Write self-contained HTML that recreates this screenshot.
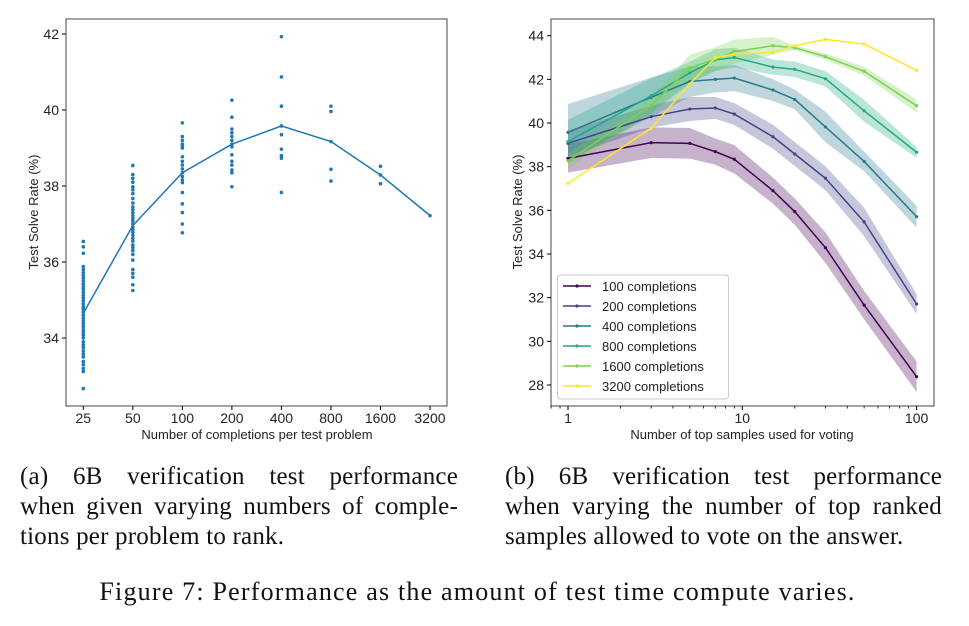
<!DOCTYPE html>
<html><head><meta charset="utf-8"><style>
body{margin:0;background:#fff;width:969px;height:626px;overflow:hidden;position:relative;font-family:"Liberation Sans",sans-serif}
svg{position:absolute;left:0;top:0}
.cap{position:absolute;font-family:"Liberation Serif",serif;font-size:25px;line-height:30px;color:#111;letter-spacing:0.2px}
.cap div{text-align:justify;text-align-last:justify;white-space:nowrap}
.cap div.last{text-align-last:left}
</style></head><body>
<svg id="chart" width="969" height="460" viewBox="0 0 969 460"></svg>
<div class="cap" style="left:20px;top:462px;width:438px"><div>(a) 6B verification test performance</div><div>when given varying numbers of comple-</div><div class="last">tions per problem to rank.</div></div>
<div class="cap" style="left:505px;top:462px;width:437px"><div>(b) 6B verification test performance</div><div>when varying the number of top ranked</div><div class="last">samples allowed to vote on the answer.</div></div>
<div class="cap" style="left:0;width:955px;top:577px;text-align:center;font-size:26px;letter-spacing:1.2px">Figure 7: Performance as the amount of test time compute varies.</div>
<script>
// Left chart data
const leftCats=[25,50,100,200,400,800,1600,3200];
const leftMean=[34.65,36.96,38.35,39.1,39.58,39.17,38.29,37.22];
const leftPts25=[32.67,33.12,33.2,33.3,33.38,33.5,33.58,33.66,33.75,33.82,33.9,34.0,34.08,34.15,34.22,34.3,34.38,34.45,34.52,34.6,34.68,34.75,34.82,34.9,34.98,35.05,35.12,35.2,35.28,35.35,35.42,35.5,35.58,35.65,35.72,35.8,35.88,36.23,36.4,36.54];
const leftPts50=[35.25,35.4,35.6,35.7,35.8,36.05,36.2,36.3,36.38,36.45,36.55,36.62,36.7,36.78,36.85,36.92,37.0,37.08,37.15,37.22,37.3,37.38,37.45,37.55,37.67,37.8,37.9,37.98,38.1,38.2,38.3,38.54];
const leftPts100=[36.77,37.0,37.3,37.53,37.83,38.09,38.16,38.25,38.35,38.45,38.55,38.65,38.77,39.0,39.03,39.1,39.2,39.3,39.66];
const leftPts200=[37.98,38.35,38.42,38.55,38.65,38.82,39.03,39.1,39.2,39.3,39.4,39.5,39.81,40.26];
const leftPts400=[37.83,38.73,38.8,38.97,39.35,39.58,40.1,40.87,41.93];
const leftPts800=[38.13,38.44,39.17,39.96,40.1];
const leftPts1600=[38.06,38.29,38.52];
const leftPts3200=[37.22];
const leftYTicks=[34,36,38,40,42];
// Right chart data
const rightX=[1,3,5,7,9,15,20,30,50,100];
const seriesLabels=["100 completions","200 completions","400 completions","800 completions","1600 completions","3200 completions"];
const s100=[38.38,39.1,39.07,38.69,38.34,36.9,35.94,34.29,31.66,28.38];
const s200=[39.07,40.29,40.64,40.69,40.41,39.37,38.58,37.47,35.47,31.71];
const s400=[39.57,41.18,41.9,42.0,42.06,41.51,41.08,39.82,38.24,35.71];
const s800=[39.15,41.25,42.3,42.89,43.0,42.56,42.46,42.03,40.56,38.66];
const s1600=[38.27,40.81,42.53,42.92,43.27,43.54,43.45,43.04,42.37,40.79];
const s3200=[37.24,39.76,41.79,42.99,43.16,43.24,43.54,43.83,43.62,42.41];
const e100=[0.65,0.7,0.7,0.6,0.65,0.6,0.6,0.7,0.65,0.7];
const e200=[0.6,0.5,0.55,0.5,0.5,0.55,0.55,0.55,0.65,0.45];
const e400=[1.3,0.9,0.7,0.6,0.6,0.5,0.45,0.7,0.45,0.5];
const e800=[1.0,0.8,0.5,0.5,0.45,0.35,0.35,0.35,0.5,0.25];
const e1600=[0.35,0.4,0.6,0.55,0.55,0.4,0.1,0.15,0.2,0.3];
const rightYTicks=[28,30,32,34,36,38,40,42,44];
const rightXTicks=[1,10,100];

const svg=document.getElementById('chart');
const NS='http://www.w3.org/2000/svg';
function mk(tag,attrs,parent){const e=document.createElementNS(NS,tag);for(const k in attrs)e.setAttribute(k,attrs[k]);(parent||svg).appendChild(e);return e;}
function txt(s,attrs,parent){const e=mk('text',attrs,parent);e.textContent=s;return e;}

// ---- Left chart ----
const lx=v=>83.3+Math.log2(v/25)*49.53;
const ly=v=>34+(42-v)*38;
const gL=mk('g',{});


const frL=mk('rect',{x:66,y:19,width:381,height:387,fill:'none',stroke:'#444','stroke-width':1},gL);


leftYTicks.forEach(t=>{mk('line',{x1:62,x2:66,y1:ly(t),y2:ly(t),stroke:'#000'},gL);
 const e=txt(String(t),{x:59,y:ly(t)+5,'text-anchor':'end','font-size':14,fill:'#222'},gL);
 });
leftCats.forEach(c=>{mk('line',{x1:lx(c),x2:lx(c),y1:406,y2:410,stroke:'#000'},gL);
 const e=txt(String(c),{x:lx(c),y:423,'text-anchor':'middle','font-size':14,fill:'#222'},gL);
 });
let xl=txt('Number of completions per test problem',{x:257,y:439,'text-anchor':'middle','font-size':13,fill:'#222'},gL);

let yl=txt('Test Solve Rate (%)',{x:0,y:0,transform:'translate(38,212) rotate(-90)','text-anchor':'middle','font-size':13,fill:'#222'},gL);

const ml=mk('polyline',{points:leftCats.map((c,i)=>lx(c)+','+ly(leftMean[i])).join(' '),fill:'none',stroke:'#1f77b4','stroke-width':1.5},gL);

[leftPts25,leftPts50,leftPts100,leftPts200,leftPts400,leftPts800,leftPts1600,leftPts3200].forEach((arr,i)=>{
 arr.forEach(v=>{const p=mk('circle',{cx:lx(leftCats[i]),cy:ly(v),r:1.8,fill:'#1f77b4'},gL);
 });});

// ---- Right chart ----
const rx=v=>568+Math.log10(v)*174.3;
const ry=v=>35.7+(44-v)*21.83;
const gR=mk('g',{});


const frR=mk('rect',{x:551,y:19,width:383,height:387,fill:'none',stroke:'#444','stroke-width':1},gR);


rightYTicks.forEach(t=>{mk('line',{x1:547,x2:551,y1:ry(t),y2:ry(t),stroke:'#000'},gR);
 const e=txt(String(t),{x:544,y:ry(t)+5,'text-anchor':'end','font-size':14,fill:'#222'},gR);
 });
rightXTicks.forEach(t=>{mk('line',{x1:rx(t),x2:rx(t),y1:406,y2:410,stroke:'#000'},gR);
 const e=txt(String(t),{x:rx(t),y:423,'text-anchor':'middle','font-size':14,fill:'#222'},gR);
 });
[0.6,0.7,0.8,0.9,2,3,4,5,6,7,8,9,20,30,40,50,60,70,80,90].forEach(t=>{if(rx(t)>551&&rx(t)<934)mk('line',{x1:rx(t),x2:rx(t),y1:406,y2:408.5,stroke:'#000','stroke-width':0.8},gR);});
xl=txt('Number of top samples used for voting',{x:742,y:439,'text-anchor':'middle','font-size':13,fill:'#222'},gR);

yl=txt('Test Solve Rate (%)',{x:0,y:0,transform:'translate(522,212) rotate(-90)','text-anchor':'middle','font-size':13,fill:'#222'},gR);

const colors=['#440154','#414487','#2a788e','#22a884','#7ad151','#fde725'];
const series=[s100,s200,s400,s800,s1600,s3200];
const errs=[e100,e200,e400,e800,e1600,null];
series.forEach((s,i)=>{if(!errs[i])return;
 const up=rightX.map((x,j)=>rx(x)+','+ry(s[j]+errs[i][j]));
 const dn=rightX.map((x,j)=>rx(x)+','+ry(s[j]-errs[i][j])).reverse();
 const b=mk('polygon',{points:up.concat(dn).join(' '),fill:colors[i],'fill-opacity':0.3,stroke:'none'},gR);
 });
series.forEach((s,i)=>{
 const l=mk('polyline',{points:rightX.map((x,j)=>rx(x)+','+ry(s[j])).join(' '),fill:'none',stroke:colors[i],'stroke-width':1.5},gR);
 
 rightX.forEach((x,j)=>{const p=mk('circle',{cx:rx(x),cy:ry(s[j]),r:1.6,fill:colors[i]},gR);
 });});
const lg=mk('g',{},gR);

mk('rect',{x:557.5,y:275,width:171,height:124,rx:3,fill:'#fff','fill-opacity':0.85,stroke:'#ccc'},lg);
seriesLabels.forEach((lab,i)=>{const y=286+i*20;
 mk('line',{x1:563,x2:591,y1:y,y2:y,stroke:colors[i],'stroke-width':1.5},lg);
 mk('circle',{cx:577,cy:y,r:1.6,fill:colors[i]},lg);
 const e=txt(lab,{x:602,y:y+5,'font-size':13,fill:'#222'},lg);
 });
</script>
</body></html>
